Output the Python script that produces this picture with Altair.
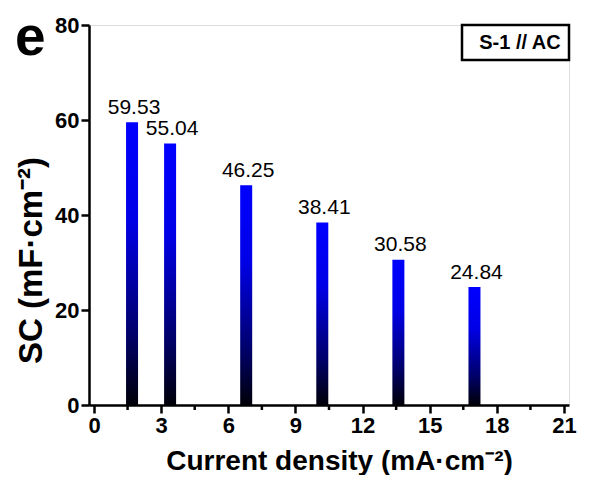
import altair as alt
import pandas as pd

# data
x_vals = [1.7, 3.4, 6.8, 10.2, 13.6, 17.0]
sc_vals = [59.53, 55.04, 46.25, 38.41, 30.58, 24.84]
sc_labels = ["59.53", "55.04", "46.25", "38.41", "30.58", "24.84"]
x_ticks = [0, 3, 6, 9, 12, 15, 18, 21]
x_minor = [1.5, 4.5, 7.5, 10.5, 13.5, 16.5, 19.5]
y_ticks = [0, 20, 40, 60, 80]

FONT = "Liberation Sans"

df = pd.DataFrame({"x": x_vals, "sc": sc_vals, "lab": sc_labels})
minor_df = pd.DataFrame({"x": x_minor})
one = pd.DataFrame({"a": [0]})

xscale = alt.Scale(domain=[0, 21], nice=False, zero=False)
yscale = alt.Scale(domain=[0, 80], nice=False)

xaxis = alt.Axis(
    values=x_ticks, format="d", grid=False,
    labelFont=FONT, labelFontSize=22, labelFontWeight="bold", labelColor="black",
    labelPadding=2, tickSize=8, tickWidth=2.5, tickColor="black",
    domainWidth=2.5, domainColor="black",
    title="Current density (mA·cm⁻²)", titleFont=FONT, titleFontSize=28,
    titleFontWeight="bold", titleColor="black",
    titleX=250, titleY=64, titleBaseline="alphabetic", titleAlign="center",
)
yaxis = alt.Axis(
    values=y_ticks, format="d", grid=False,
    labelFont=FONT, labelFontSize=22, labelFontWeight="bold", labelColor="black",
    labelPadding=2, tickSize=8, tickWidth=2.5, tickColor="black",
    domainWidth=2.5, domainColor="black",
    title="SC (mF·cm⁻²)", titleFont=FONT, titleFontSize=33,
    titleFontWeight="bold", titleColor="black",
    titleX=-48, titleY=235, titleBaseline="alphabetic", titleAlign="center",
)

grad = alt.LinearGradient(
    gradient="linear",
    stops=[
        alt.GradientStop(color="#0000ff", offset=0),
        alt.GradientStop(color="#0000e6", offset=0.35),
        alt.GradientStop(color="#00006a", offset=0.75),
        alt.GradientStop(color="#000008", offset=1),
    ],
    x1=0, x2=0, y1=0, y2=1,
)

bars = alt.Chart(df).mark_bar(size=12, color=grad).encode(
    x=alt.X("x:Q", scale=xscale, axis=xaxis),
    y=alt.Y("sc:Q", scale=yscale, axis=yaxis),
)

labels = alt.Chart(df).mark_text(
    font=FONT, fontSize=21, color="black", baseline="alphabetic",
    align="center", dy=-8.5, dx=2,
).encode(x=alt.X("x:Q", scale=xscale), y=alt.Y("sc:Q", scale=yscale), text="lab:N")

minor = alt.Chart(minor_df).mark_rule(color="black", strokeWidth=2.5).encode(
    x=alt.X("x:Q", scale=xscale), y=alt.value(380), y2=alt.value(385)
)

box = alt.Chart(one).mark_rect(fill="white", stroke="black", strokeWidth=2.5).encode(
    x=alt.value(373), x2=alt.value(480), y=alt.value(0), y2=alt.value(35)
)
box_text = alt.Chart(one).mark_text(
    font=FONT, fontSize=20, fontWeight="bold", color="black",
    align="center", baseline="alphabetic",
).encode(x=alt.value(431), y=alt.value(24), text=alt.value("S-1 // AC"))

panel = alt.Chart(one).mark_text(
    font=FONT, fontSize=55, fontWeight="bold", color="black",
    align="left", baseline="alphabetic",
).encode(x=alt.value(-74), y=alt.value(30), text=alt.value("e"))

chart = alt.layer(bars, labels, minor, box, box_text, panel).properties(
    width=480, height=380,
    autosize=alt.AutoSizeParams(type="none"),
    padding={"left": 81, "top": 17, "right": 12, "bottom": 70},
).configure_view(stroke="black", strokeWidth=2.5).configure(background="white")

chart.save("out.html", embed_options={"renderer": "svg", "actions": False})
